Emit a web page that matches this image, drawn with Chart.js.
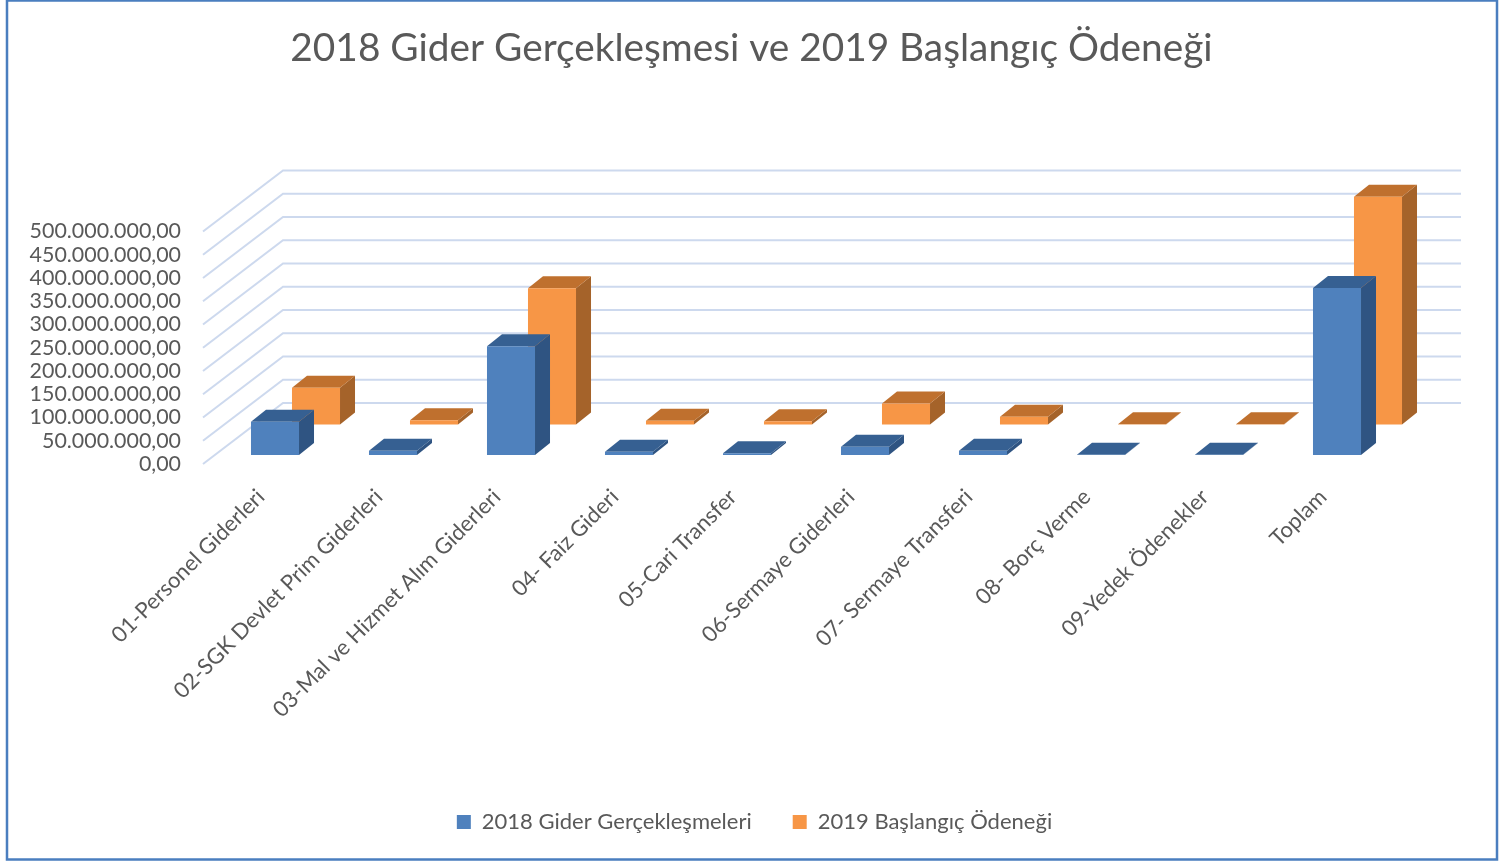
<!DOCTYPE html>
<html>
<head>
<meta charset="utf-8">
<title>2018 Gider Gerçekleşmesi ve 2019 Başlangıç Ödeneği</title>
<script src="https://cdn.jsdelivr.net/npm/chart.js@4"></script>
<style>
  html, body { margin: 0; padding: 0; background: #fff; }
  canvas { display: block; }
</style>
</head>
<body>
<canvas id="chart" width="1509" height="861"></canvas>
<script>
const categories = ['01-Personel Giderleri', '02-SGK Devlet Prim Giderleri', '03-Mal ve Hizmet Alım Giderleri',
  '04- Faiz Gideri', '05-Cari Transfer', '06-Sermaye Giderleri', '07- Sermaye Transferi',
  '08- Borç Verme', '09-Yedek Ödenekler', 'Toplam'];
const gider2018 = [71500000, 9000000, 234000000, 7000000, 3500000, 18000000, 9000000, 500000, 500000, 359000000];
const odenek2019 = [79000000, 9000000, 293000000, 8000000, 7000000, 45000000, 16500000, 500000, 500000, 490000000];
const yTickLabels = ['0,00', '50.000.000,00', '100.000.000,00', '150.000.000,00', '200.000.000,00',
  '250.000.000,00', '300.000.000,00', '350.000.000,00', '400.000.000,00', '450.000.000,00', '500.000.000,00'];

const textColor = '#595959';
const fontName = 'Lato, Carlito, sans-serif';

// how far each series sits back from the y axis, and the faces for each
const seriesOffset = [{ x: 0, y: -9 }, { x: 41, y: -39.5 }];
const faceColors = [{ side: '#2f5482', top: '#366092' }, { side: '#a5632a', top: '#bf702e' }];
const depth = { x: 15, y: -12 };

const fake3d = {
  id: 'fake3d',
  afterLayout(chart) {
    // title sits a bit left of the legend in the original
    chart.titleBlock.right -= 6;
  },
  beforeDraw(chart) {
    const ctx = chart.ctx;
    ctx.save();
    ctx.fillStyle = '#fff';
    ctx.fillRect(0, 0, chart.width, chart.height);
    ctx.strokeStyle = '#4a7ebf';
    ctx.lineWidth = 2.5;
    ctx.strokeRect(7, 0.5, 1490, 859);
    ctx.restore();
  },
  beforeDatasetsDraw(chart) {
    // side wall and back wall lines
    const ctx = chart.ctx, y = chart.scales.y;
    ctx.save();
    ctx.strokeStyle = '#cdd9ee';
    ctx.lineWidth = 2;
    y.ticks.forEach(t => {
      const py = y.getPixelForValue(t.value);
      ctx.beginPath();
      ctx.moveTo(203, py);
      ctx.lineTo(283, py - 61);
      ctx.lineTo(1461, py - 61);
      ctx.stroke();
    });
    ctx.restore();
  },
  beforeDatasetDraw(chart, args) {
    const ctx = chart.ctx, off = seriesOffset[args.index], col = faceColors[args.index];
    ctx.save();
    ctx.translate(off.x, off.y);
    chart.getDatasetMeta(args.index).data.forEach(bar => {
      const l = bar.x - bar.width / 2, r = bar.x + bar.width / 2;
      ctx.fillStyle = col.side;
      ctx.beginPath();
      ctx.moveTo(r, bar.y);
      ctx.lineTo(r + depth.x, bar.y + depth.y);
      ctx.lineTo(r + depth.x, bar.base + depth.y);
      ctx.lineTo(r, bar.base);
      ctx.fill();
      ctx.fillStyle = col.top;
      ctx.beginPath();
      ctx.moveTo(l, bar.y);
      ctx.lineTo(l + depth.x, bar.y + depth.y);
      ctx.lineTo(r + depth.x, bar.y + depth.y);
      ctx.lineTo(r, bar.y);
      ctx.fill();
    });
  },
  afterDatasetDraw(chart) {
    chart.ctx.restore();
  }
};

new Chart(document.getElementById('chart'), {
  type: 'bar',
  plugins: [fake3d],
  data: {
    labels: categories,
    datasets: [
      { label: '2018 Gider Gerçekleşmeleri', data: gider2018, backgroundColor: '#4f81bd', grouped: false, clip: false },
      { label: '2019 Başlangıç Ödeneği', data: odenek2019, backgroundColor: '#f79646', grouped: false, clip: false }
    ]
  },
  options: {
    responsive: false,
    animation: false,
    barPercentage: 0.407,
    categoryPercentage: 1,
    layout: { padding: { bottom: 18 } },
    plugins: {
      tooltip: { enabled: false },
      title: {
        display: true,
        text: '2018 Gider Gerçekleşmesi ve 2019 Başlangıç Ödeneği',
        color: textColor,
        font: { family: fontName, size: 38.8, weight: 'normal' },
        padding: { top: 25, bottom: 160 }
      },
      legend: {
        position: 'bottom',
        labels: {
          color: textColor,
          font: { family: fontName, size: 22 },
          boxWidth: 14,
          boxHeight: 14,
          padding: 41
        }
      }
    },
    scales: {
      x: {
        grid: { display: false },
        border: { display: false },
        ticks: {
          color: textColor,
          font: { family: fontName, size: 22 },
          autoSkip: false,
          minRotation: 45,
          maxRotation: 45,
          labelOffset: -14,
          padding: 12
        },
        afterFit(scale) { scale.height = 306; }
      },
      y: {
        min: 0,
        max: 500000000,
        grid: { display: false },
        border: { display: false },
        ticks: {
          color: textColor,
          font: { family: fontName, size: 21.4 },
          stepSize: 50000000,
          autoSkip: false,
          padding: 27,
          callback: (value, index) => yTickLabels[index]
        },
        afterFit(scale) { scale.width = 216; }
      },
      y2: {
        position: 'right',
        grid: { display: false },
        border: { display: false },
        ticks: { display: false },
        afterFit(scale) { scale.width = 113; }
      }
    }
  }
});
</script>
</body>
</html>
